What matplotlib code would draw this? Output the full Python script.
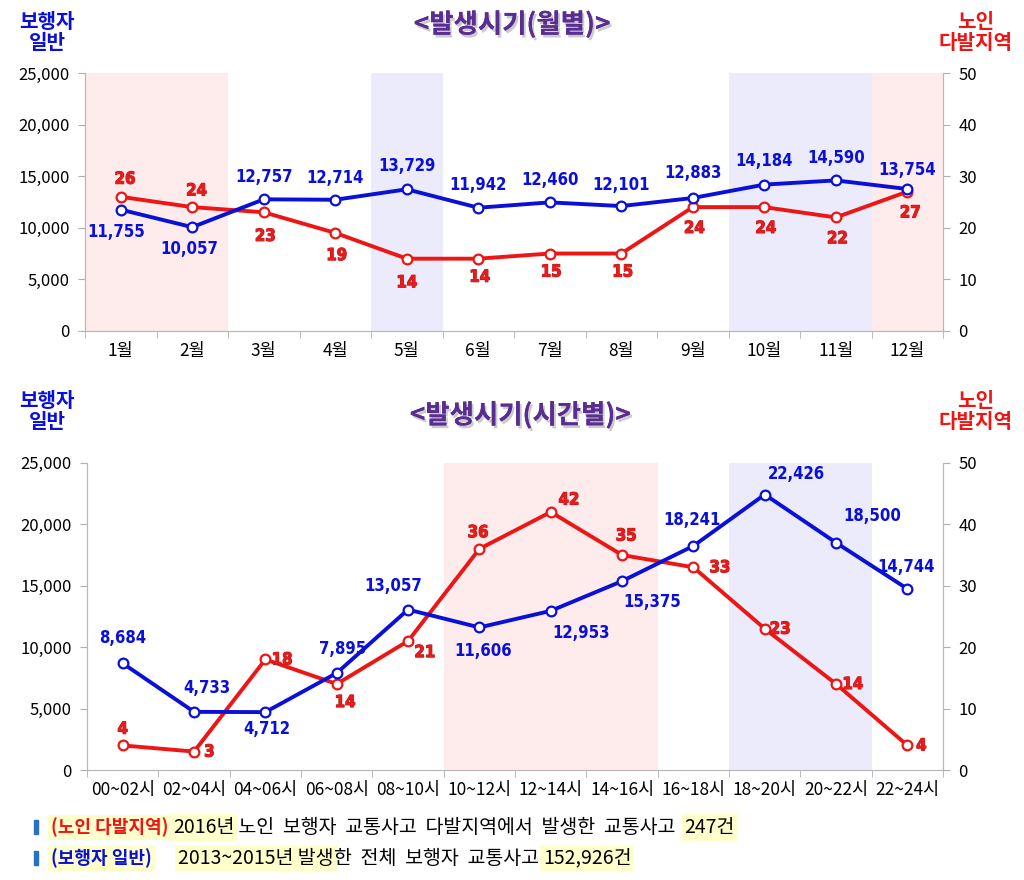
import numpy as np
import matplotlib.pyplot as plt
import matplotlib as mpl
import matplotlib.patheffects as pe
from matplotlib.text import Annotation

mpl.rcParams['font.family'] = ['Noto Sans CJK KR', 'DejaVu Sans']

# data
months = ['1월', '2월', '3월', '4월', '5월', '6월', '7월', '8월', '9월', '10월', '11월', '12월']
month_general = [11755, 10057, 12757, 12714, 13729, 11942, 12460, 12101, 12883, 14184, 14590, 13754]
month_elder = [26, 24, 23, 19, 14, 14, 15, 15, 24, 24, 22, 27]

hours = ['00~02시', '02~04시', '04~06시', '06~08시', '08~10시', '10~12시',
         '12~14시', '14~16시', '16~18시', '18~20시', '20~22시', '22~24시']
hour_general = [8684, 4733, 4712, 7895, 13057, 11606, 12953, 15375, 18241, 22426, 18500, 14744]
hour_elder = [4, 3, 18, 14, 21, 36, 42, 35, 33, 23, 14, 4]

BLUE = '#0a10d8'
RED = '#ee1515'
PINK = '#fdeceb'
LAV = '#ebebfb'
PURPLE = '#5a2d91'

# label offsets (points)
m_blue_off = [(-3, -16), (-2, -16), (0, 16), (0, 16), (0, 17), (0, 16), (0, 16), (0, 15),
              (0, 18), (0, 17), (0, 16), (0, 14)]
m_red_off = [(3, 13), (3, 12), (1, -17), (1, -16), (0, -17), (1, -13), (1, -13), (1, -13),
             (1, -15), (1, -15), (1, -15), (2, -15)]
h_blue_off = [(0, 18), (9, 17), (1, -12), (4, 17), (-11, 17), (3, -17), (22, -16), (22, -15),
              (-1, 19), (23, 15), (26, 19), (-1, 16)]
h_red_off = [(0, 12), (11, 0), (12, 0), (6, -13), (12, -8), (-1, 12), (13, 9), (3, 14),
             (19, 0), (11, 0), (12, 0), (10, 0)]


def draw_panel(rect, cats, gen, eld, spans, blue_off, red_off):
    ax = fig.add_axes(rect)
    ax2 = ax.twinx()
    x = np.arange(len(cats))
    for a, b, c in spans:
        ax2.axvspan(a - 0.5, b + 0.5, color=c, lw=0, zorder=0)
    ax.set_xlim(-0.5, len(cats) - 0.5)
    ax.set_ylim(0, 25000)
    ax2.set_ylim(0, 50)
    ax.set_yticks(np.arange(0, 25001, 5000))
    ax.set_yticklabels(['{:,}'.format(v) for v in range(0, 25001, 5000)])
    ax2.set_yticks(np.arange(0, 51, 10))
    ax.set_xticks(x)
    ax.set_xticklabels(cats)
    ax.set_xticks(np.arange(-0.5, len(cats), 1), minor=True)
    ax.tick_params(axis='x', which='major', length=0, labelsize=12.5, pad=8)
    ax.tick_params(axis='x', which='minor', length=5, color='#b0b0b0')
    ax.tick_params(axis='y', length=5, color='#b0b0b0', labelsize=12, pad=6)
    ax2.tick_params(axis='y', length=5, color='#b0b0b0', labelsize=12, pad=6)
    for a in (ax, ax2):
        a.spines['top'].set_visible(False)
        for s in ('left', 'right', 'bottom'):
            a.spines[s].set_color('#b8b8b8')
    ax2.plot(x, eld, color=RED, lw=2.8, marker='o', ms=7, mfc='white', mec=RED, mew=1.6, zorder=3)
    ax.plot(x, gen, color=BLUE, lw=2.8, marker='o', ms=7, mfc='white', mec=BLUE, mew=1.6, zorder=3)
    ax.set_zorder(ax2.get_zorder() + 1)
    ax.patch.set_visible(False)
    for i, v in enumerate(gen):
        ax.annotate('{:,}'.format(v), (x[i], v), xytext=blue_off[i], textcoords='offset points',
                    ha='center', va='center', color=BLUE, fontsize=12, fontweight='bold',
                    family='DejaVu Sans', fontstretch='condensed', zorder=5)
    for i, v in enumerate(eld):
        ax2.annotate(str(v), (x[i], v), xytext=red_off[i], textcoords='offset points',
                     ha='center', va='center', color='#e81c1c', fontsize=12, fontweight='bold',
                     family='DejaVu Sans', fontstretch='condensed', zorder=5,
                     path_effects=[pe.withStroke(linewidth=0.8, foreground='#c01818')])
    return ax


fig = plt.figure(figsize=(10.24, 8.8), dpi=100)

draw_panel([0.083, 0.624, 0.838, 0.293], months, month_general, month_elder,
           [(0, 1, PINK), (4, 4, LAV), (9, 10, LAV), (11, 11, PINK)], m_blue_off, m_red_off)
draw_panel([0.085, 0.125, 0.836, 0.349], hours, hour_general, hour_elder,
           [(5, 7, PINK), (9, 10, LAV)], h_blue_off, h_red_off)

shadow = [pe.withSimplePatchShadow(offset=(1.5, -2), shadow_rgbFace='#999999', alpha=0.5), pe.Normal()]
fig.text(0.5, 0.972, '<발생시기(월별)>', ha='center', va='center', fontsize=19,
         fontweight='bold', color=PURPLE, path_effects=shadow)
fig.text(0.508, 0.528, '<발생시기(시간별)>', ha='center', va='center', fontsize=19,
         fontweight='bold', color=PURPLE, path_effects=shadow)

for yy in (0.964, 0.533):
    fig.text(0.046, yy, '보행자\n일반', ha='center', va='center', fontsize=14.5,
             fontweight='bold', color=BLUE, linespacing=1.0)
    fig.text(0.953, yy, '노인\n다발지역', ha='center', va='center', fontsize=14.5,
             fontweight='bold', color=RED, linespacing=1.0)

# footnotes
HL = dict(boxstyle='square,pad=0.15', fc='#ffffcc', ec='none')
line1 = [('(노인 다발지역)', RED, 'bold', HL), (' ', 'black', 'normal', None),
         ('2016년', 'black', 'normal', HL),
         (' 노인  보행자  교통사고  다발지역에서  발생한  교통사고  ', 'black', 'normal', None),
         ('247건', 'black', 'normal', HL)]
line2 = [('(보행자 일반)', BLUE, 'bold', HL), ('      ', 'black', 'normal', None),
         ('2013~2015년 발생', 'black', 'normal', HL),
         ('한  전체  보행자  교통사고 ', 'black', 'normal', None),
         ('152,926건', 'black', 'normal', HL)]
for yy, parts in ((0.060, line1), (0.025, line2)):
    fig.patches.append(mpl.patches.Rectangle((0.033, yy - 0.008), 0.004, 0.016,
                                             transform=fig.transFigure, color='#2a6fc0'))
    last = None
    for txt, col, wt, bb in parts:
        size = 13 if wt == 'bold' else 14
        if last is None:
            last = fig.text(0.050, yy, txt, ha='left', va='center', fontsize=size,
                            color=col, fontweight=wt, bbox=bb)
        else:
            last = fig.add_artist(Annotation(txt, xy=(1, 0.5), xycoords=last,
                                             xytext=(0, 0), textcoords='offset points',
                                             ha='left', va='center', fontsize=size,
                                             color=col, fontweight=wt, bbox=bb))

fig.savefig('out.png', dpi=100)
